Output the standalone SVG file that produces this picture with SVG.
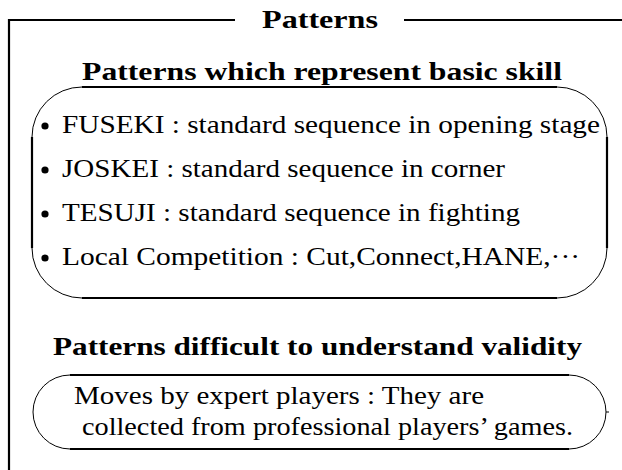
<svg xmlns="http://www.w3.org/2000/svg" width="622" height="470" viewBox="0 0 622 470">
<style>
  text { font-family: "Liberation Serif", "Times New Roman", serif; font-size: 26px; fill: #000; }
  .b { font-weight: bold; }
  .thick { stroke: #000; stroke-width: 2.2; fill: none; }
  .thin { stroke: #000; stroke-width: 1; fill: none; }
</style>
<rect width="622" height="470" fill="#fff"/>
<g id="frame">
  <path class="thick" d="M9 470 V20 H235 M404 20 H622"/>
  <text class="b" x="262" y="28" textLength="116" lengthAdjust="spacingAndGlyphs">Patterns</text>
</g>
<g id="basic-skill">
  <text class="b" x="82" y="80" textLength="480" lengthAdjust="spacingAndGlyphs">Patterns which represent basic skill</text>
  <path class="thick" d="M82 87 H557 M82 298 H557 M32 137 V248 M607 137 V248"/>
  <path class="thin" d="M32 137 A50 50 0 0 1 82 87 M557 87 A50 50 0 0 1 607 137 M607 248 A50 50 0 0 1 557 298 M82 298 A50 50 0 0 1 32 248"/>
  <circle cx="45" cy="126" r="3.6"/>
  <text x="62" y="133" textLength="538" lengthAdjust="spacingAndGlyphs">FUSEKI : standard sequence in opening stage</text>
  <circle cx="45" cy="170" r="3.6"/>
  <text x="62" y="177" textLength="443" lengthAdjust="spacingAndGlyphs">JOSKEI : standard sequence in corner</text>
  <circle cx="45" cy="214" r="3.6"/>
  <text x="62" y="221" textLength="458" lengthAdjust="spacingAndGlyphs">TESUJI : standard sequence in fighting</text>
  <circle cx="45" cy="258" r="3.6"/>
  <text x="62" y="265" textLength="518" lengthAdjust="spacingAndGlyphs">Local Competition : Cut,Connect,HANE,···</text>
</g>
<g id="validity">
  <text class="b" x="53" y="355" textLength="529" lengthAdjust="spacingAndGlyphs">Patterns difficult to understand validity</text>
  <path class="thick" d="M70 375 H569 M70 449 H569"/>
  <path class="thin" d="M70 375 A37 37 0 0 0 70 449 M569 375 A37 37 0 0 1 569 449 M606 412 H609"/>
  <text x="74" y="404" textLength="410" lengthAdjust="spacingAndGlyphs">Moves by expert players : They are</text>
  <text x="82" y="435" textLength="491" lengthAdjust="spacingAndGlyphs">collected from professional players’ games.</text>
</g>
<g id="connectors"/>
</svg>
